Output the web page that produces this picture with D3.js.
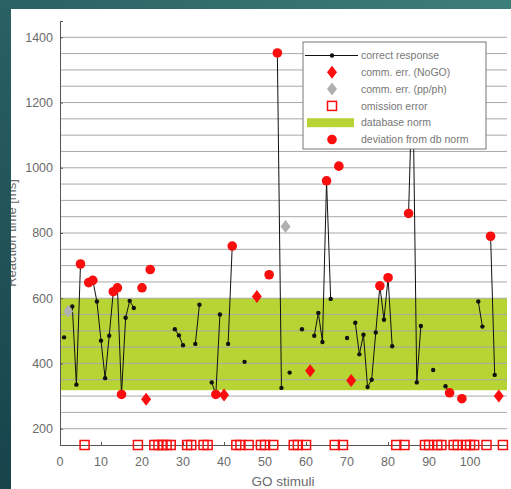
<!DOCTYPE html>
<html>
<head>
<meta charset="utf-8">
<script src="https://cdn.jsdelivr.net/npm/d3@7"></script>
<style>
  html, body { margin: 0; padding: 0; background: #1f4f56; }
  svg { display: block; font-family: "Liberation Sans", Arial, sans-serif; }
</style>
</head>
<body>
<div id="chart"></div>
<script>
// ---- data ----
// correct responses (GO stimulus index, reaction time in ms)
const respTrial = [1, 3, 4, 5, 7, 8, 9, 10, 11, 12, 13, 14, 15, 16, 17, 18, 20, 22, 28, 29, 30, 33, 34, 37, 38, 39,
  41, 42, 45, 51, 53, 54, 56, 59, 62, 63, 64, 65, 66, 68, 70, 72, 73, 74, 75, 76, 77, 78, 79, 80, 81,
  85, 86, 87, 88, 91, 94, 95, 98, 102, 103, 105, 106];
const respRT = [480, 575, 335, 705, 648, 655, 590, 470, 355, 485, 620, 632, 305, 540, 592, 570, 632, 688, 505, 486, 456, 460, 580, 342, 305, 550,
  460, 760, 405, 672, 1352, 325, 372, 505, 485, 555, 466, 960, 598, 1005, 478, 525, 428, 488, 328, 350, 495, 638, 534, 663, 453,
  860, 1300, 342, 515, 380, 330, 310, 292, 590, 513, 790, 365];

// commission errors (NoGO)
const nogoTrial = [21, 40, 48, 61, 71, 107];
const nogoRT = [290, 303, 605, 378, 348, 300];

// commission errors (pp/ph)
const ppTrial = [2, 55];
const ppRT = [560, 820];

// omission errors
const omissionTrial = [6, 19, 23, 24, 25, 26, 27, 31, 32, 35, 36, 43, 44, 46, 49, 50, 52, 57, 58, 60, 67, 69,
  82, 84, 89, 90, 92, 93, 96, 97, 99, 100, 101, 104, 108];
const omissionRT = 150;

// database norm band
const normLow = 318;
const normHigh = 600;

const yTicks = [200, 400, 600, 800, 1000, 1200, 1400];
const xTicks = [0, 10, 20, 30, 40, 50, 60, 70, 80, 90, 100];

const legendLabels = ["correct response", "comm. err. (NoGO)", "comm. err. (pp/ph)",
  "omission error", "database norm", "deviation from db norm"];

// ---- setup ----
const width = 511, height = 489;
const red = "#fa0d0d", green = "#b6d433", grid = "#a9a9a9", axisCol = "#555";

const svg = d3.select("#chart").append("svg")
  .attr("width", width).attr("height", height);

// teal slide background
const defs = svg.append("defs");
const grad = defs.append("linearGradient").attr("id", "bg")
  .attr("x1", "0").attr("y1", "1").attr("x2", "1").attr("y2", "0");
grad.append("stop").attr("offset", "0").attr("stop-color", "#17434b");
grad.append("stop").attr("offset", "1").attr("stop-color", "#3d7f7a");
svg.append("rect").attr("width", width).attr("height", height).attr("fill", "url(#bg)");

defs.append("clipPath").attr("id", "panel")
  .append("rect").attr("x", 11).attr("y", 9).attr("width", 500).attr("height", 480);

const panel = svg.append("g").attr("clip-path", "url(#panel)");
panel.append("rect").attr("x", 11).attr("y", 9).attr("width", 500).attr("height", 480).attr("fill", "#fff");

const x = d3.scaleLinear().domain([0, 109]).range([60, 507]);
const y = d3.scaleLinear().domain([150, 1450]).range([445, 21]);

// norm band
panel.append("rect")
  .attr("x", x(0)).attr("width", x(109) - x(0))
  .attr("y", y(normHigh)).attr("height", y(normLow) - y(normHigh))
  .attr("fill", green);

// gridlines every 50 ms
panel.append("g").selectAll("line")
  .data(d3.range(200, 1401, 50))
  .join("line")
  .attr("x1", x(0)).attr("x2", x(109))
  .attr("y1", d => y(d)).attr("y2", d => y(d))
  .attr("stroke", grid).attr("stroke-width", 1);

// axes
const yAxis = panel.append("g")
  .attr("transform", `translate(${x(0)},0)`)
  .call(d3.axisRight(y).tickValues(yTicks).tickSize(3).tickFormat(""));
yAxis.select(".domain").attr("stroke", axisCol);
yAxis.selectAll(".tick line").attr("stroke", axisCol);

const xAxis = panel.append("g")
  .attr("transform", `translate(0,${y(150)})`)
  .call(d3.axisTop(x).tickValues(xTicks).tickSize(3).tickFormat(""));
xAxis.select(".domain").attr("stroke", axisCol);
xAxis.selectAll(".tick line").attr("stroke", axisCol);

panel.append("g").selectAll("text")
  .data(yTicks)
  .join("text")
  .attr("x", 53).attr("y", d => y(d)).attr("dy", "0.35em")
  .attr("text-anchor", "end")
  .attr("fill", "#6b6b6b").style("font-size", "12.5px")
  .text(d => d);

panel.append("g").selectAll("text")
  .data(xTicks)
  .join("text")
  .attr("x", d => x(d)).attr("y", 466)
  .attr("text-anchor", "middle")
  .attr("fill", "#6b6b6b").style("font-size", "12.5px")
  .text(d => d);

panel.append("text")
  .attr("x", 283).attr("y", 486)
  .attr("text-anchor", "middle")
  .attr("fill", "#6b6b6b").style("font-size", "13.5px")
  .text("GO stimuli");

panel.append("text")
  .attr("transform", `translate(16,233) rotate(-90)`)
  .attr("text-anchor", "middle")
  .attr("fill", "#6b6b6b").style("font-size", "13px")
  .text("Reaction time [ms]");

// ---- marks ----
const byTrial = new Map(respTrial.map((t, i) => [t, respRT[i]]));
const series = d3.range(1, 109).map(t => ({ t, v: byTrial.has(t) ? byTrial.get(t) : null }));
const responses = respTrial.map((t, i) => ({ t, v: respRT[i] }));
const isDev = d => d.v > normHigh || d.v < normLow;

const line = d3.line()
  .defined(d => d.v !== null)
  .x(d => x(d.t)).y(d => y(d.v));

panel.append("path")
  .datum(series)
  .attr("fill", "none").attr("stroke", "#111").attr("stroke-width", 1)
  .attr("d", line);

panel.append("g").selectAll("circle")
  .data(responses.filter(d => !isDev(d)))
  .join("circle")
  .attr("cx", d => x(d.t)).attr("cy", d => y(d.v))
  .attr("r", 2.2).attr("fill", "#111");

panel.append("g").selectAll("circle")
  .data(responses.filter(isDev))
  .join("circle")
  .attr("cx", d => x(d.t)).attr("cy", d => y(d.v))
  .attr("r", 4.8).attr("fill", red);

const diamond = "M0,-6.5L5,0L0,6.5L-5,0Z";

panel.append("g").selectAll("path")
  .data(nogoTrial.map((t, i) => ({ t, v: nogoRT[i] })))
  .join("path")
  .attr("transform", d => `translate(${x(d.t)},${y(d.v)})`)
  .attr("d", diamond).attr("fill", red);

panel.append("g").selectAll("path")
  .data(ppTrial.map((t, i) => ({ t, v: ppRT[i] })))
  .join("path")
  .attr("transform", d => `translate(${x(d.t)},${y(d.v)})`)
  .attr("d", diamond).attr("fill", "#b0b0b0");

panel.append("g").selectAll("rect")
  .data(omissionTrial)
  .join("rect")
  .attr("x", d => x(d) - 4.5).attr("y", y(omissionRT) - 4.5)
  .attr("width", 9).attr("height", 9)
  .attr("fill", "none").attr("stroke", red).attr("stroke-width", 1.5);

// ---- legend ----
const lg = panel.append("g").attr("transform", "translate(303,42)");
lg.append("rect").attr("width", 183).attr("height", 107)
  .attr("fill", "#fff").attr("stroke", "#777");

const rowY = i => 13.5 + i * 16.8;
const sx = 29;

lg.append("line").attr("x1", 2).attr("x2", 55).attr("y1", rowY(0)).attr("y2", rowY(0))
  .attr("stroke", "#111");
lg.append("circle").attr("cx", sx).attr("cy", rowY(0)).attr("r", 2.2).attr("fill", "#111");
lg.append("path").attr("transform", `translate(${sx},${rowY(1)})`).attr("d", diamond).attr("fill", red);
lg.append("path").attr("transform", `translate(${sx},${rowY(2)})`).attr("d", diamond).attr("fill", "#b0b0b0");
lg.append("rect").attr("x", sx - 4.5).attr("y", rowY(3) - 4.5).attr("width", 9).attr("height", 9)
  .attr("fill", "#fff").attr("stroke", red).attr("stroke-width", 1.5);
lg.append("rect").attr("x", 4).attr("y", rowY(4) - 4.5).attr("width", 47).attr("height", 9).attr("fill", green);
lg.append("circle").attr("cx", sx).attr("cy", rowY(5)).attr("r", 4.8).attr("fill", red);

lg.selectAll("text.lab")
  .data(legendLabels)
  .join("text")
  .attr("class", "lab")
  .attr("x", 58).attr("y", (d, i) => rowY(i)).attr("dy", "0.35em")
  .attr("fill", "#777").style("font-size", "10.5px")
  .text(d => d);
</script>
</body>
</html>
